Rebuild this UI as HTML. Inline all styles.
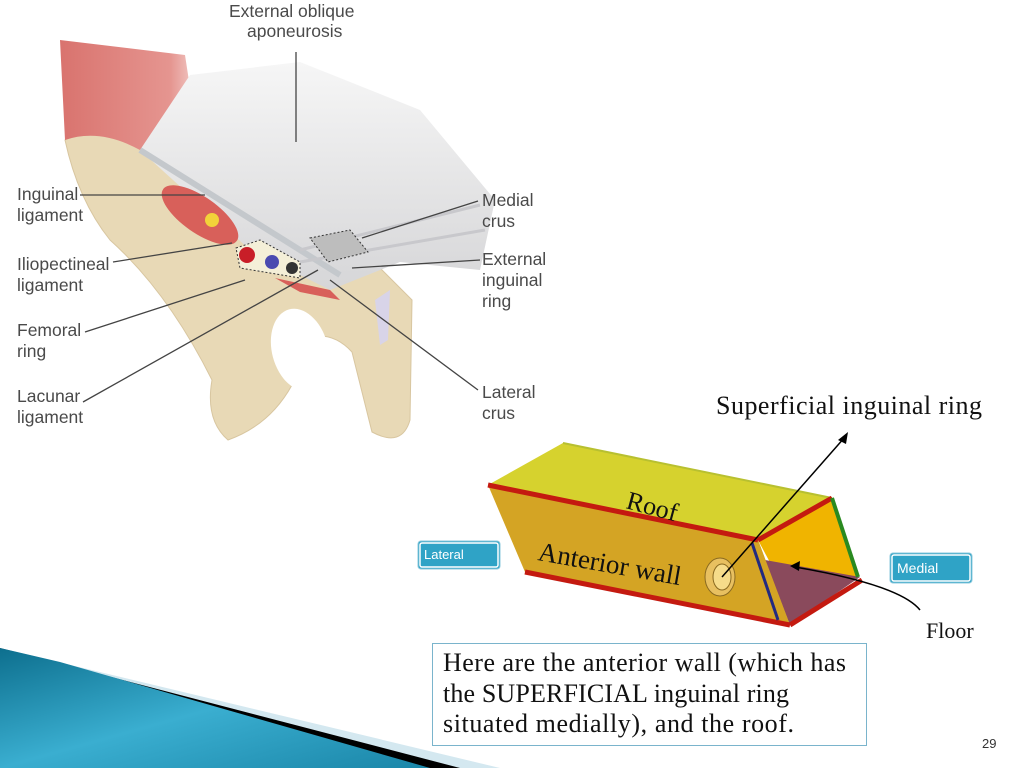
<!DOCTYPE html>
<html><head><meta charset="utf-8"><style>
html,body{margin:0;padding:0;background:#fff;}
body{width:1024px;height:768px;overflow:hidden;position:relative;}
svg{position:absolute;left:0;top:0;}
.lab{font-family:"Liberation Sans",sans-serif;font-size:17.5px;fill:#4a4a4a;}
.ser{font-family:"Liberation Serif",serif;}
</style></head><body>
<svg width="1024" height="768" viewBox="0 0 1024 768">
<defs>
<linearGradient id="teal" x1="0" y1="0" x2="1" y2="1">
<stop offset="0" stop-color="#0d6f8e"/><stop offset="0.5" stop-color="#3aaed0"/><stop offset="1" stop-color="#1a86a8"/>
</linearGradient>
<linearGradient id="mus" x1="0" y1="0" x2="1" y2="0">
<stop offset="0" stop-color="#d9736e"/><stop offset="0.8" stop-color="#e59590"/><stop offset="1" stop-color="#f3d0cc"/>
</linearGradient>
<linearGradient id="apo" x1="0" y1="0" x2="0" y2="1">
<stop offset="0" stop-color="#f6f6f6"/><stop offset="1" stop-color="#d6d6d8"/>
</linearGradient>
</defs>
<path d="M65,140 Q100,118 140,145 L230,235 L380,268 L412,300 L410,420 Q402,448 372,432 L352,352 Q332,330 305,338 L292,385 Q270,425 228,440 Q205,420 212,380 Q168,292 110,240 Q78,200 65,140 Z" fill="#e8d9b6" stroke="#d8c6a0"/>
<ellipse cx="300" cy="350" rx="28" ry="42" fill="#fff" transform="rotate(-15 300 350)"/>
<path d="M60,40 L185,55 L198,140 L140,150 Q100,128 65,140 Z" fill="url(#mus)"/>
<path d="M140,150 L190,75 L300,62 L420,110 L495,200 L480,270 L400,262 L330,290 L250,250 Z" fill="url(#apo)"/>
<path d="M140,150 L340,275" stroke="#c4c8cc" stroke-width="6"/>
<path d="M300,250 L480,205 M300,262 L485,230" stroke="#c8c8cc" stroke-width="3"/>
<ellipse cx="200" cy="215" rx="45" ry="18" fill="#d8605a" transform="rotate(35 200 215)"/>
<circle cx="212" cy="220" r="7" fill="#f2d23a"/>
<path d="M236,248 L260,240 L300,262 L300,278 L240,268 Z" fill="#f4efd8" stroke="#333" stroke-dasharray="2,2"/>
<circle cx="247" cy="255" r="8" fill="#c81e28"/>
<circle cx="272" cy="262" r="7" fill="#4a4ab0"/>
<circle cx="292" cy="268" r="6" fill="#333"/>
<path d="M275,278 L330,290 L340,300 L300,292 Z" fill="#d8605a"/>
<path d="M310,238 L350,230 L368,252 L328,262 Z" fill="#bdbdbd" stroke="#333" stroke-dasharray="2,2"/>
<path d="M375,300 L390,290 L388,340 L380,345 Z" fill="#d8d4e8"/>
<g stroke="#444" stroke-width="1.3" fill="none">
<path d="M296,52 L296,142"/>
<path d="M80,195 L205,195"/>
<path d="M113,262 L232,243"/>
<path d="M85,332 L245,280"/>
<path d="M83,402 L318,270"/>
<path d="M478,201 L362,238"/>
<path d="M480,260 L352,268"/>
<path d="M478,390 L330,280"/>
</g>
<g class="lab">
<text x="229" y="17">External oblique</text><text x="247" y="37">aponeurosis</text>
<text x="17" y="200">Inguinal</text><text x="17" y="221">ligament</text>
<text x="17" y="270">Iliopectineal</text><text x="17" y="291">ligament</text>
<text x="17" y="336">Femoral</text><text x="17" y="357">ring</text>
<text x="17" y="402">Lacunar</text><text x="17" y="423">ligament</text>
<text x="482" y="206">Medial</text><text x="482" y="227">crus</text>
<text x="482" y="265">External</text><text x="482" y="286">inguinal</text><text x="482" y="307">ring</text>
<text x="482" y="398">Lateral</text><text x="482" y="419">crus</text>
</g>
<polygon points="563,443 832,498 758,540 488,485" fill="#d6d22e"/>
<polygon points="488,485 758,540 790,625 525,572" fill="#d4a424"/>
<polygon points="758,540 832,498 858,577 790,600" fill="#f0b400"/>
<polygon points="765,560 860,577 790,625" fill="#8a4a5c"/>
<polygon points="758,540 790,625 778,622 750,545" fill="#d4a424"/>
<line x1="563" y1="443" x2="832" y2="498" stroke="#b8c030" stroke-width="2"/>
<line x1="488" y1="485" x2="758" y2="540" stroke="#c41a10" stroke-width="5"/>
<line x1="758" y1="540" x2="832" y2="498" stroke="#c41a10" stroke-width="5"/>
<line x1="525" y1="572" x2="790" y2="625" stroke="#c41a10" stroke-width="5"/>
<line x1="790" y1="625" x2="862" y2="580" stroke="#c41a10" stroke-width="5"/>
<line x1="752" y1="543" x2="778" y2="620" stroke="#222a80" stroke-width="3"/>
<line x1="832" y1="498" x2="858" y2="577" stroke="#2a8a20" stroke-width="4"/>
<ellipse cx="720" cy="577" rx="15" ry="19" fill="#e8c060" stroke="#8a6a20"/>
<ellipse cx="722" cy="577" rx="9" ry="13" fill="#f6dc8a" stroke="#8a6a20"/>
<text x="625" y="508" class="ser" font-size="26" fill="#111" transform="rotate(15 625 508)">Roof</text>
<text x="537" y="560" class="ser" font-size="27" fill="#111" transform="rotate(10 537 560)">Anterior wall</text>
<g stroke="#000" stroke-width="1.5" fill="none">
<line x1="722" y1="577" x2="845" y2="437"/>
<path d="M920,610 Q900,585 795,567"/>
</g>
<polygon points="848,432 838,440 846,444" fill="#000"/>
<polygon points="790,566 800,561 799,571" fill="#000"/>
<text x="716" y="414" class="ser" font-size="26" fill="#111" textLength="266">Superficial inguinal ring</text>
<text x="926" y="638" class="ser" font-size="22" fill="#111">Floor</text>
<rect x="418" y="541" width="82" height="28" rx="3" fill="#2fa3c6" stroke="#8cc8dc"/>
<rect x="420" y="543" width="78" height="24" rx="2" fill="none" stroke="#fff" stroke-width="1.5"/>
<text x="424" y="559" font-family="Liberation Sans,sans-serif" font-size="13" fill="#fff">Lateral</text>
<rect x="890" y="553" width="82" height="30" rx="3" fill="#2fa3c6" stroke="#8cc8dc"/>
<rect x="892" y="555" width="78" height="26" rx="2" fill="none" stroke="#fff" stroke-width="1.5"/>
<text x="897" y="573" font-family="Liberation Sans,sans-serif" font-size="14" fill="#fff">Medial</text>
<rect x="432.5" y="643.5" width="434" height="102" fill="#fff" stroke="#7ab4cc"/>
<g class="ser" font-size="26" fill="#111">
<text x="443" y="671" textLength="403">Here are the anterior wall (which has</text>
<text x="443" y="702" textLength="346">the SUPERFICIAL inguinal ring</text>
<text x="443" y="732" textLength="351">situated medially), and the roof.</text>
</g>
<text x="982" y="748" font-family="Liberation Sans,sans-serif" font-size="13" fill="#333">29</text>
<polygon points="0,648 500,768 0,768" fill="#d4e8f0"/>
<polygon points="0,648 460,768 0,768" fill="#000"/>
<polygon points="0,648 60,662 430,768 0,768" fill="url(#teal)"/>
</svg>
</body></html>
